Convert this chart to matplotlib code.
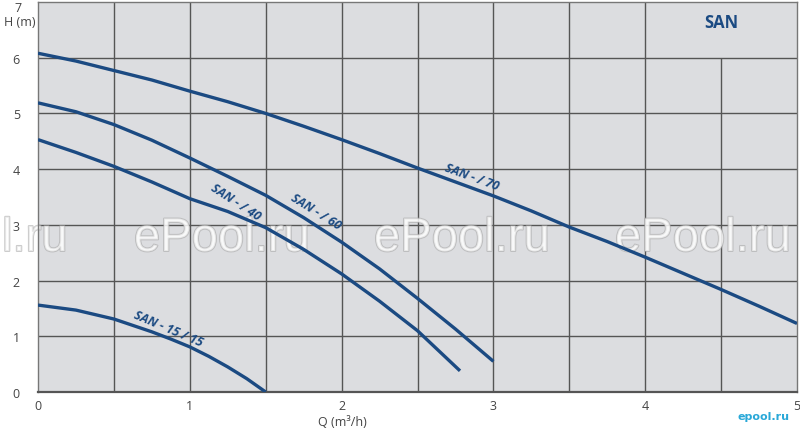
import matplotlib
matplotlib.use("Agg")
import matplotlib.pyplot as plt
import matplotlib.patheffects as pe

# pump curves, Q in m3/h, H in m
q70 = [0, 0.25, 0.5, 0.75, 1.0, 1.25, 1.5, 1.75, 2.0, 2.25, 2.5, 2.75, 3.0, 3.25, 3.5, 3.75, 4.0, 4.25, 4.5, 4.75, 5.0]
h70 = [6.08, 5.94, 5.77, 5.60, 5.40, 5.21, 5.00, 4.77, 4.53, 4.28, 4.02, 3.77, 3.52, 3.25, 2.96, 2.70, 2.42, 2.13, 1.84, 1.54, 1.23]

q60 = [0, 0.25, 0.5, 0.75, 1.0, 1.25, 1.5, 1.75, 2.0, 2.25, 2.5, 2.75, 3.0]
h60 = [5.19, 5.03, 4.80, 4.52, 4.20, 3.87, 3.53, 3.13, 2.69, 2.21, 1.68, 1.13, 0.55]

q40 = [0, 0.25, 0.5, 0.75, 1.0, 1.25, 1.5, 1.75, 2.0, 2.25, 2.5, 2.78]
h40 = [4.53, 4.30, 4.05, 3.77, 3.47, 3.24, 2.95, 2.56, 2.12, 1.63, 1.10, 0.38]

q15 = [0, 0.25, 0.5, 0.75, 0.875, 1.0, 1.125, 1.25, 1.375, 1.5]
h15 = [1.56, 1.47, 1.31, 1.08, 0.95, 0.81, 0.64, 0.45, 0.24, 0.0]

curve_labels = ["SAN - / 70", "SAN - / 60", "SAN - / 40", "SAN - 15 / 15"]
label_pos = [(2.86, 3.87, -20), (1.83, 3.24, -32), (1.30, 3.42, -33), (0.855, 1.14, -23)]

x_ticks = [0, 1, 2, 3, 4, 5]
y_ticks = [0, 1, 2, 3, 4, 5, 6]

blue = "#1b4a82"
grid_c = "#555555"

fig = plt.figure(figsize=(8, 4.31), dpi=100)
ax = fig.add_axes([38 / 800, 38 / 431, 759 / 800, 390 / 431])
ax.set_facecolor("#dcdde0")
ax.set_xlim(0, 5)
ax.set_ylim(0, 7)

# grid, the 4.5 line stops under the SAN box
for x in [0.5, 1, 1.5, 2, 2.5, 3, 3.5, 4]:
    ax.vlines(x, 0, 7, color=grid_c, lw=1.0, zorder=1)
ax.vlines(4.5, 0, 6, color=grid_c, lw=1.0, zorder=1)
for y in [1, 2, 3, 4, 5, 6]:
    ax.hlines(y, 0, 5, color=grid_c, lw=1.0, zorder=1)

for s in ["left", "top", "right"]:
    ax.spines[s].set_color("#777777")
    ax.spines[s].set_linewidth(1.0)
ax.spines["bottom"].set_color("#555555")
ax.spines["bottom"].set_linewidth(1.6)

# watermarks, under the curves
wm = dict(fontsize=34, color="white", alpha=0.6, va="baseline", zorder=2,
          family="Liberation Sans", transform=fig.transFigure, clip_on=False,
          path_effects=[pe.withStroke(linewidth=1.4, foreground="#a8a8a8")])
for cx in [222, 462, 703]:
    ax.text(cx / 800, 1 - 252 / 431, "ePool.ru", ha="center", **wm)
ax.text(2 / 800, 1 - 252 / 431, "l.ru", ha="left", **wm)

for q, h in [(q70, h70), (q60, h60), (q40, h40), (q15, h15)]:
    ax.plot(q, h, color=blue, lw=2.4, solid_capstyle="butt", solid_joinstyle="round", zorder=3)

for lab, (x, y, r) in zip(curve_labels, label_pos):
    ax.text(x, y, lab, rotation=r, rotation_mode="anchor", ha="center", va="center",
            fontsize=9, fontweight="bold", style="italic", color=blue,
            family="Open Sans", zorder=4)

ax.text(4.5, 6.65, "SAN", ha="center", va="center", fontsize=12,
        fontweight="bold", color=blue, family="Open Sans")

ax.set_xticks(x_ticks)
ax.set_xticklabels([str(v) for v in x_ticks])
ax.set_yticks(y_ticks)
ax.set_yticklabels([str(v) for v in y_ticks])
ax.tick_params(length=0, labelsize=9, labelcolor="#444444")
ax.tick_params(axis="y", pad=13)
ax.tick_params(axis="x", pad=5)
for t in ax.get_xticklabels() + ax.get_yticklabels():
    t.set_family("Open Sans")

fig.text(18 / 800, 1 - 8 / 431, "7", ha="center", va="center",
         fontsize=9, color="#444444", family="Open Sans")
fig.text(20 / 800, 1 - 22 / 431, "H (m)", ha="center", va="center",
         fontsize=9, color="#444444", family="Open Sans")
fig.text(342 / 800, 1 - 423 / 431, "Q (m³/h)", ha="center", va="center",
         fontsize=9, color="#444444", family="Open Sans")
fig.text(764 / 800, 1 - 417 / 431, "epool.ru", ha="center", va="center",
         fontsize=8, fontweight="bold", color="#29a8d8", family="DejaVu Sans")

fig.savefig("out.png", dpi=100)
